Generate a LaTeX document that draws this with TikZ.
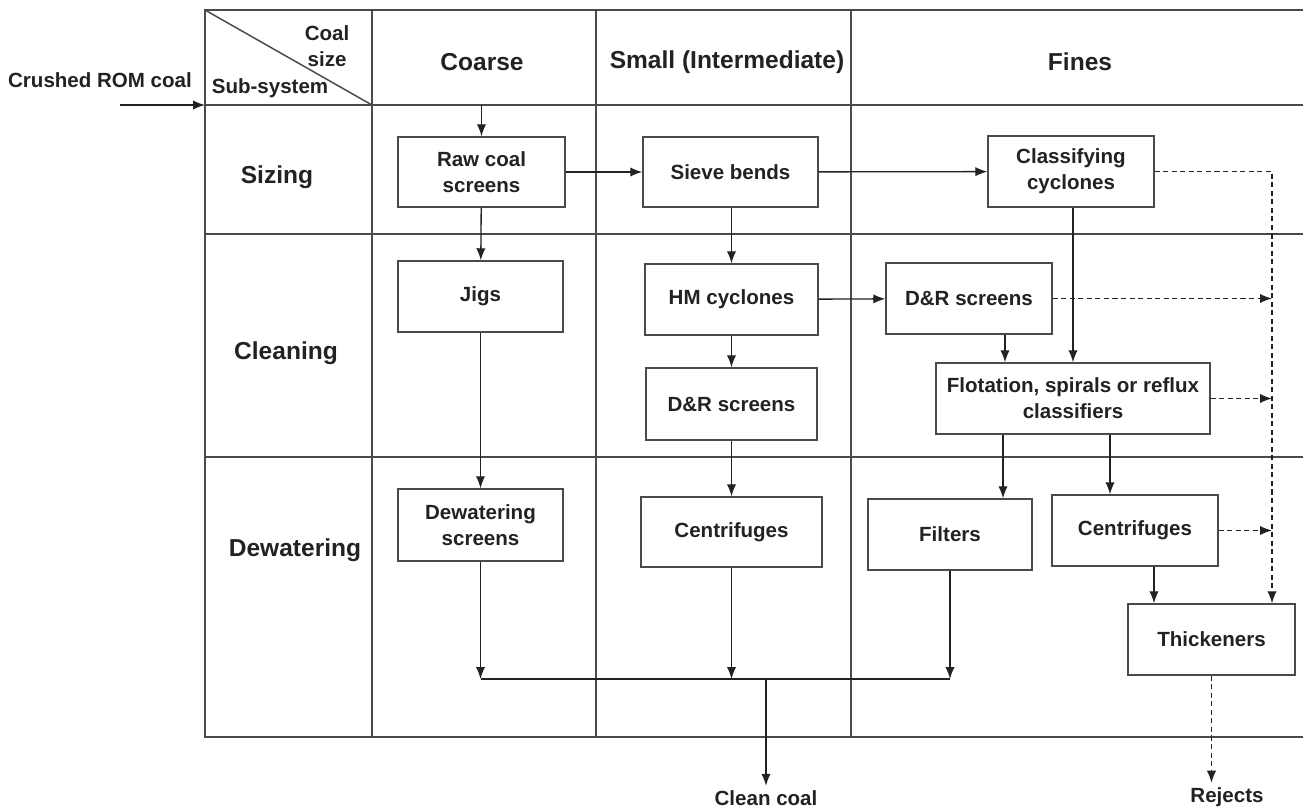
\documentclass[tikz,border=0pt]{standalone}
\usepackage{fontspec}
\setmainfont{Liberation Sans}
\usetikzlibrary{arrows.meta}
\definecolor{ink}{HTML}{222222}
\definecolor{rule}{HTML}{4A4A4A}
\begin{document}
\begin{tikzpicture}[x=0.75pt,y=-0.75pt,
  grid/.style={draw=rule, line width=1.1pt},
  box/.style 2 args={draw=rule, line width=1.1pt, fill=white, align=center,
    minimum width=#1*0.75pt, minimum height=#2*0.75pt, inner sep=2pt,
    font=\bfseries\fontsize{15.4}{19.5}\selectfont, text=ink},
  lbl/.style={font=\bfseries\fontsize{15.4}{19.5}\selectfont, text=ink, align=center},
  head/.style={font=\bfseries\fontsize{18.4}{22}\selectfont, text=ink},
  tip/.style={-{Latex[length=9pt,width=7pt]}},
  arr/.style={draw=ink, line width=1pt, tip},
  flow/.style={draw=ink, line width=1pt},
  rejline/.style={draw=ink, line width=1pt, dash pattern=on 3.8pt off 2.6pt},
  rejarr/.style={rejline, tip}]

\useasboundingbox (0,0) rectangle (1303,808);

% table frame and rules
\draw[grid] (1303,10) -- (205,10) -- (205,737) -- (1303,737);
\foreach \yy in {105,234,457} \draw[grid] (205,\yy) -- (1303,\yy);
\foreach \xx in {372,596,851} \draw[grid] (\xx,10) -- (\xx,737);
\draw[grid] (205,10) -- (372,105);

% header cells
\node[lbl, anchor=east] (coalsize) at (354,46) {Coal\\size};
\node[lbl] (subsys) at (270,88) {Sub-system};
\node[head] (coarse) at (482,62) {Coarse};
\node[head] (small) at (727,62) {Small (Intermediate)};
\node[head] (fines) at (1080,62) {Fines};

% row labels
\node[head] (sizing) at (277,177) {Sizing};
\node[head] (cleaning) at (286,353) {Cleaning};
\node[head] (dewater) at (295,550) {Dewatering};

% feed
\node[lbl] (feed) at (100,80) {Crushed ROM coal};
\coordinate (feedin) at (120,105);
\coordinate (corner) at (205,105);
\coordinate (hline) at (0,105);

% process units
\node[box={167}{70}] (raw) at (481.5,172) {Raw coal\\screens};
\node[box={175}{70}] (sieve) at (730.5,172) {Sieve bends};
\node[box={166}{71}] (classify) at (1071,171.5) {Classifying\\cyclones};
\node[box={165}{71}] (jigs) at (480.5,296.5) {Jigs};
\node[box={173}{71}] (hm) at (731.5,299.5) {HM cyclones};
\node[box={166}{71}] (drf) at (969,298.5) {D\&R screens};
\node[box={171}{72}] (drs) at (731.5,404) {D\&R screens};
\node[box={274}{71}] (flot) at (1073,398.5) {Flotation, spirals or reflux\\classifiers};
\node[box={165}{72}] (dws) at (480.5,525) {Dewatering\\screens};
\node[box={181}{70}] (cens) at (731.5,532) {Centrifuges};
\node[box={164}{71}] (filt) at (950,534.5) {Filters};
\node[box={166}{71}] (cenf) at (1135,530.5) {Centrifuges};
\node[box={167}{71}] (thick) at (1211.5,639.5) {Thickeners};

% outlets
\node[lbl] (clean) at (766,798) {Clean coal};
\node[lbl] (rejects) at (1227,797) {Rejects};

% helper positions
\coordinate (rj) at (1272,0);
\coordinate (bus) at (766,679);
\coordinate (xfilt) at (1003,0);
\coordinate (xcenf) at (1110,0);
\coordinate (xthk) at (1154,0);
\coordinate (xdrf) at (1005,0);
\coordinate (xcls) at (1073,0);

% main flow
\draw[arr] (feedin) -- (corner);
\draw[arr] (raw.north |- hline) -- (raw.north);
\draw[arr] (raw) -- (sieve);
\draw[arr] (sieve) -- (classify);
\draw[arr] (raw) -- (jigs);
\draw[arr] (sieve.south -| hm) -- (hm.north);
\draw[arr] (hm) -- (drf);
\draw[arr] (hm) -- (drs);
\draw[arr] (drf.south -| xdrf) -- (flot.north -| xdrf);
\draw[arr] (classify.south -| xcls) -- (flot.north -| xcls);
\draw[arr] (jigs) -- (dws);
\draw[arr] (drs) -- (cens);
\draw[arr] (flot.south -| xfilt) -- (filt.north -| xfilt);
\draw[arr] (flot.south -| xcenf) -- (cenf.north -| xcenf);
\draw[arr] (cenf.south -| xthk) -- (thick.north -| xthk);

% clean coal collector
\draw[arr] (dws) -- (dws.south |- bus);
\draw[arr] (cens) -- (cens.south |- bus);
\draw[arr] (filt) -- (filt.south |- bus);
\draw[flow] (dws.south |- bus) -- (filt.south |- bus);
\draw[arr] (bus) -- (clean.north);

% reject lines
\draw[rejarr] (classify.east) -- (classify.east -| rj) -- (thick.north -| rj);
\draw[rejarr] (drf.east) -- (drf.east -| rj);
\draw[rejarr] (flot.east) -- (flot.east -| rj);
\draw[rejarr] (cenf.east) -- (cenf.east -| rj);
\draw[rejarr] (thick.south) -- (thick.south |- rejects.north);
\end{tikzpicture}
\end{document}
